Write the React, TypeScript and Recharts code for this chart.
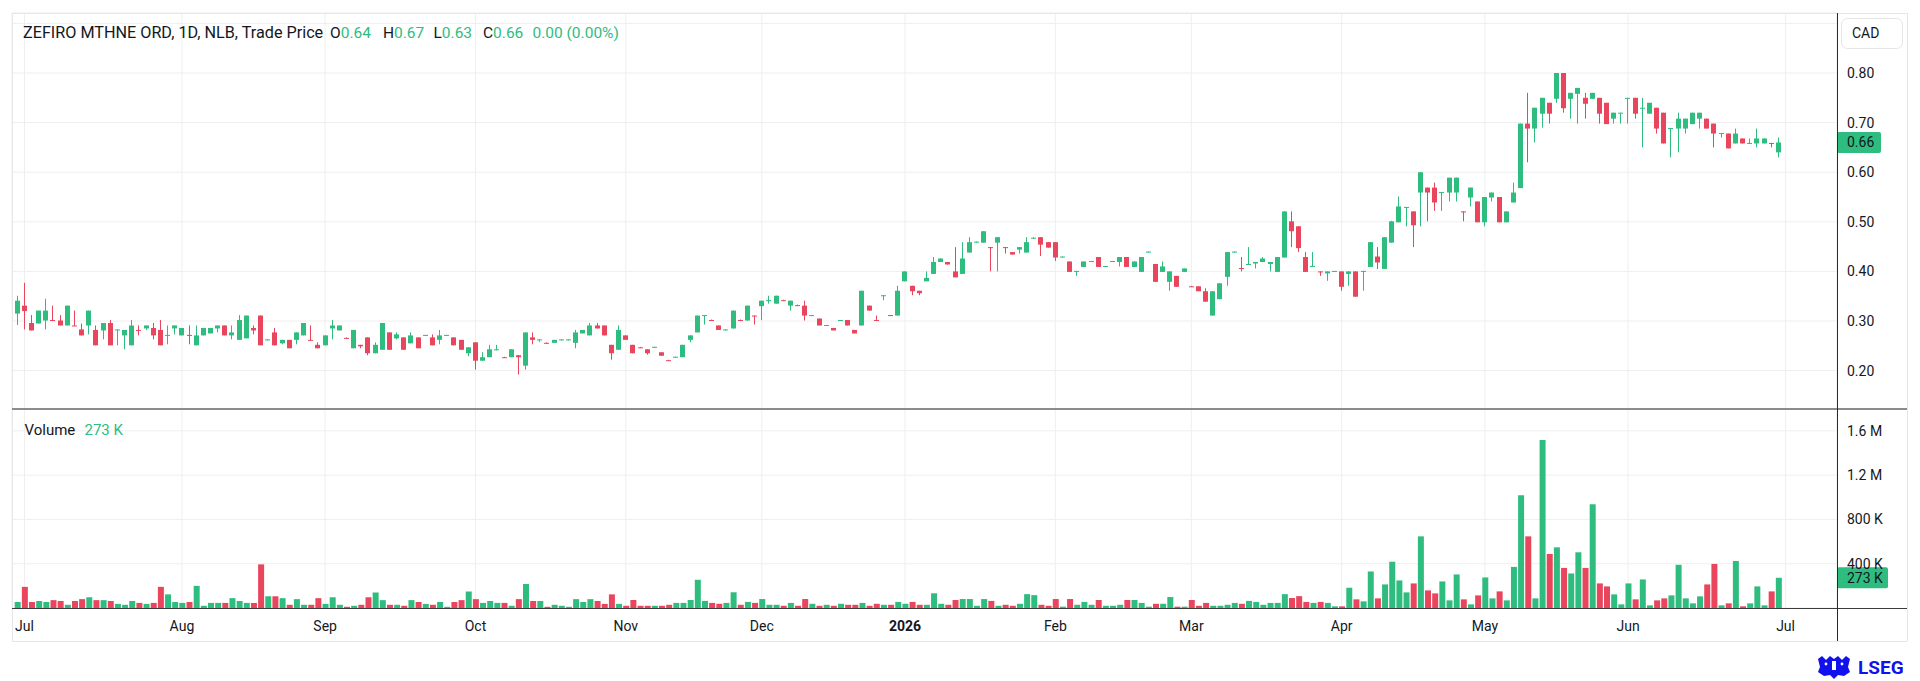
import React from 'react';
import { ComposedChart, Bar, XAxis, YAxis, CartesianGrid, ReferenceLine, Cell } from 'recharts';

// ---- data (daily candles, Jun 30 2025 .. Jun 2026) ----
const openP = [
  .315,.331,.296,.295,.301,.302,.301,.291,.291,.283,
  .291,.282,.281,.296,.282,.271,.251,.282,.285,.286,
  .282,.271,.285,.271,.272,.251,.271,.275,.285,.291,
  .271,.262,.265,.286,.311,.262,.277,.255,.262,.262,
  .271,.262,.252,.251,.285,.281,.266,.245,.252,.267,
  .235,.242,.277,.265,.267,.255,.267,.271,.267,.262,
  .271,.267,.262,.235,.257,.220,.227,.242,.227,.227,
  .231,.210,.267,.262,.256,.256,.262,.262,.256,.275,
  .271,.291,.291,.252,.242,.271,.252,.247,.243,.247,
  .237,.221,.227,.227,.262,.277,.311,.302,.291,.282,
  .285,.302,.301,.311,.330,.341,.335,.342,.331,.332,
  .331,.311,.305,.291,.286,.301,.302,.282,.291,.331,
  .302,.351,.312,.311,.380,.371,.361,.380,.395,.419,
  .419,.400,.395,.438,.459,.458,.449,.458,.449,.439,
  .444,.438,.467,.469,.459,.459,.429,.420,.400,.409,
  .420,.429,.410,.420,.419,.429,.409,.399,.439,.415,
  .399,.379,.391,.399,.370,.370,.360,.311,.344,.389,
  .439,.407,.414,.416,.419,.415,.399,.428,.501,.491,
  .429,.410,.400,.396,.400,.400,.395,.400,.400,.409,
  .430,.405,.458,.499,.529,.521,.559,.569,.569,.559,
  .559,.559,.521,.549,.541,.499,.549,.550,.499,.539,
  .568,.698,.688,.718,.740,.748,.800,.748,.758,.750,
  .748,.750,.740,.708,.719,.749,.750,.729,.718,.730,
  .720,.688,.688,.688,.697,.708,.708,.698,.678,.678,
  .658,.668,.658,.658,.658,.659,.640,
];
const highP = [
  .351,.377,.312,.321,.345,.331,.312,.331,.321,.295,
  .321,.291,.296,.302,.283,.282,.302,.291,.291,.296,
  .302,.291,.291,.286,.291,.291,.286,.286,.291,.291,
  .291,.312,.311,.291,.311,.263,.286,.262,.262,.277,
  .296,.291,.257,.271,.302,.291,.267,.282,.252,.267,
  .257,.296,.277,.277,.267,.277,.267,.272,.273,.282,
  .272,.267,.262,.247,.257,.237,.252,.252,.228,.243,
  .231,.277,.277,.263,.257,.262,.263,.263,.282,.282,
  .296,.296,.291,.252,.291,.271,.252,.248,.243,.248,
  .237,.222,.228,.252,.271,.311,.312,.303,.291,.283,
  .321,.303,.331,.311,.341,.351,.351,.343,.341,.333,
  .341,.312,.305,.292,.286,.302,.302,.282,.361,.331,
  .311,.352,.312,.371,.400,.371,.361,.400,.429,.426,
  .419,.449,.459,.469,.460,.481,.449,.469,.449,.439,
  .449,.469,.469,.469,.459,.459,.430,.420,.401,.420,
  .421,.429,.411,.421,.429,.429,.420,.429,.440,.415,
  .420,.400,.391,.406,.371,.370,.366,.360,.376,.439,
  .440,.429,.449,.419,.429,.419,.429,.521,.521,.491,
  .439,.439,.400,.400,.401,.400,.400,.400,.401,.459,
  .449,.469,.502,.551,.530,.521,.600,.569,.579,.560,
  .589,.589,.521,.569,.541,.550,.559,.550,.521,.579,
  .698,.760,.730,.750,.740,.800,.800,.760,.770,.760,
  .760,.750,.740,.720,.720,.750,.750,.750,.740,.730,
  .720,.689,.720,.708,.720,.720,.708,.698,.679,.678,
  .688,.668,.668,.688,.668,.659,.670,
];
const lowP = [
  .292,.283,.281,.295,.283,.300,.291,.291,.290,.271,
  .273,.251,.263,.251,.251,.243,.251,.271,.282,.263,
  .251,.253,.273,.271,.253,.251,.271,.275,.277,.271,
  .263,.262,.265,.273,.251,.261,.251,.253,.245,.253,
  .271,.261,.245,.251,.263,.281,.265,.245,.245,.231,
  .235,.242,.242,.263,.242,.255,.245,.270,.251,.253,
  .270,.251,.242,.229,.202,.220,.227,.241,.226,.227,
  .192,.202,.253,.258,.255,.256,.261,.261,.245,.275,
  .271,.285,.271,.222,.242,.262,.235,.246,.232,.246,
  .230,.220,.226,.227,.257,.277,.293,.301,.282,.281,
  .285,.301,.301,.293,.302,.335,.335,.341,.321,.331,
  .301,.310,.291,.290,.281,.300,.291,.275,.291,.321,
  .301,.342,.310,.311,.380,.352,.352,.380,.395,.419,
  .414,.388,.395,.438,.458,.458,.400,.400,.436,.434,
  .436,.438,.466,.431,.448,.421,.428,.399,.391,.409,
  .419,.409,.409,.419,.410,.409,.409,.399,.438,.379,
  .399,.361,.369,.399,.369,.360,.339,.311,.344,.371,
  .438,.400,.414,.406,.419,.400,.399,.428,.449,.439,
  .399,.410,.391,.381,.399,.361,.371,.349,.361,.409,
  .405,.405,.458,.499,.491,.449,.491,.501,.522,.522,
  .541,.541,.501,.531,.499,.491,.541,.499,.499,.539,
  .568,.620,.660,.690,.698,.740,.720,.708,.698,.708,
  .748,.698,.697,.698,.698,.698,.708,.650,.718,.678,
  .658,.630,.640,.678,.697,.688,.688,.650,.670,.648,
  .658,.658,.658,.650,.658,.650,.630,
];
const closeP = [
  .341,.320,.281,.321,.321,.301,.291,.331,.290,.271,
  .321,.251,.296,.251,.283,.282,.291,.281,.291,.271,
  .251,.272,.291,.286,.271,.271,.286,.286,.291,.271,
  .277,.302,.311,.281,.251,.263,.251,.262,.245,.277,
  .296,.261,.245,.271,.291,.291,.265,.282,.249,.235,
  .252,.296,.242,.273,.242,.271,.245,.272,.251,.271,
  .272,.251,.242,.247,.220,.227,.243,.243,.226,.243,
  .227,.277,.262,.263,.255,.262,.263,.263,.277,.282,
  .291,.285,.271,.235,.282,.262,.235,.246,.235,.248,
  .230,.220,.228,.252,.271,.311,.312,.301,.282,.283,
  .321,.301,.331,.310,.341,.342,.351,.341,.341,.331,
  .311,.312,.291,.292,.281,.302,.291,.275,.361,.321,
  .301,.352,.311,.361,.400,.360,.356,.387,.419,.426,
  .414,.388,.426,.459,.460,.481,.448,.469,.448,.434,
  .449,.459,.468,.454,.448,.428,.430,.399,.401,.420,
  .421,.409,.411,.421,.429,.409,.420,.429,.440,.379,
  .410,.400,.369,.406,.369,.360,.339,.360,.376,.439,
  .440,.406,.415,.419,.426,.419,.429,.521,.481,.447,
  .399,.411,.399,.400,.401,.369,.400,.349,.401,.459,
  .418,.469,.501,.531,.530,.493,.600,.559,.539,.560,
  .589,.589,.520,.569,.499,.550,.559,.499,.521,.559,
  .698,.688,.730,.750,.718,.800,.729,.760,.770,.738,
  .760,.718,.697,.720,.720,.750,.718,.730,.740,.688,
  .658,.689,.708,.708,.720,.720,.688,.678,.679,.648,
  .678,.658,.659,.668,.668,.658,.660,
];
// volume in thousands
const volumeK = [
  54,191,54,63,54,71,63,29,63,80,
  97,71,71,63,37,29,63,46,37,46,
  191,123,54,46,54,200,20,46,46,46,
  89,63,46,46,394,106,106,89,29,80,
  29,29,89,37,97,29,11,20,29,97,
  140,71,29,29,20,71,54,37,29,54,
  11,54,71,149,80,46,63,46,46,20,
  80,217,63,63,11,29,20,11,80,54,
  80,63,37,123,37,20,72,20,20,20,
  20,29,46,46,72,255,64,46,38,46,
  142,29,55,46,81,29,29,20,46,20,
  81,38,20,29,20,38,29,29,46,20,
  38,29,29,55,38,55,29,29,133,38,
  29,72,81,81,20,81,64,20,29,20,
  38,125,116,29,20,81,12,81,29,55,
  29,72,20,20,29,72,72,46,12,38,
  38,99,12,12,72,20,46,20,20,29,
  46,38,64,55,29,46,46,125,90,107,
  55,46,55,46,15,15,183,78,60,330,
  87,213,418,249,141,222,647,159,132,240,
  69,303,78,33,114,276,87,150,69,371,
  1019,647,87,1516,488,548,362,312,503,362,
  938,222,195,123,33,222,78,258,24,69,
  87,114,390,87,42,105,213,398,24,42,
  425,15,42,195,24,150,273,
];
const monthTickIndex = [1, 23, 43, 64, 85, 104, 124, 145, 164, 185, 205, 225, 247];
const monthTickLabel = ['Jul', 'Aug', 'Sep', 'Oct', 'Nov', 'Dec', '2026', 'Feb', 'Mar', 'Apr', 'May', 'Jun', 'Jul'];
const priceTicks = [0.2, 0.3, 0.4, 0.5, 0.6, 0.7, 0.8, 0.9];
const volumeTicks = [400000, 800000, 1200000, 1600000];
const SLOTS = 254;

const GREEN = '#2ebd7f';
const RED = '#e9455d';
const TEXT = '#131722';
const FONT = 'Roboto, "Noto Sans", sans-serif';
const GRID = '#efefef';

const N = openP.length;
const rows = Array.from({ length: SLOTS }, (_, i) =>
  i < N
    ? { i, range: [lowP[i], highP[i]], o: openP[i], h: highP[i], l: lowP[i], c: closeP[i], v: volumeK[i] * 1000 }
    : { i, range: null, o: null, h: null, l: null, c: null, v: null }
);
const lastClose = closeP[N - 1];
const lastVol = volumeK[N - 1] * 1000;

const Candle = (props: any) => {
  const { x, y, width, height, payload } = props;
  if (!payload || payload.o == null || x == null) return <g />;
  const top = Math.min(y, y + height);
  const hh = Math.abs(height);
  const span = payload.h - payload.l;
  const ppp = span > 0 ? hh / span : 0;
  const yO = top + (payload.h - payload.o) * ppp;
  const yC = top + (payload.h - payload.c) * ppp;
  const color = payload.c >= payload.o ? GREEN : RED;
  const px = Math.floor(x + width / 2);
  const bTop = Math.min(yO, yC);
  const bH = Math.max(1, Math.abs(yO - yC));
  return (
    <g>
      <line x1={px + 0.5} x2={px + 0.5} y1={top} y2={top + Math.max(hh, 1)} stroke={color} strokeWidth={1} />
      <rect x={px - 2} y={bTop} width={5} height={bH} fill={color} />
    </g>
  );
};

const MonthTick = (props: any) => {
  const { x, y, payload } = props;
  const k = monthTickIndex.indexOf(payload.value);
  const label = k >= 0 ? monthTickLabel[k] : '';
  return (
    <text x={x} y={y} dy="0.71em" textAnchor="middle" fontSize={14} fontFamily={FONT} fill={TEXT}
      fontWeight={label === '2026' ? 700 : 400}>{label}</text>
  );
};

const PriceTick = (props: any) => {
  const { x, y, payload } = props;
  if (payload.value > 0.85) return <g />;
  return (
    <text x={x} y={y} dy="0.35em" textAnchor="start" fontSize={14} fontFamily={FONT} fill={TEXT}>
      {Number(payload.value).toFixed(2)}
    </text>
  );
};

const fmtVol = (v: number) => (v >= 1e6 ? (v / 1e6).toFixed(1) + ' M' : Math.round(v / 1000) + ' K');

const VolTick = (props: any) => {
  const { x, y, payload } = props;
  return (
    <text x={x} y={y} dy="0.35em" textAnchor="start" fontSize={14} fontFamily={FONT} fill={TEXT}>
      {fmtVol(payload.value)}
    </text>
  );
};

const Tag = (props: any) => {
  const { viewBox, text, w } = props;
  if (!viewBox) return <g />;
  const left = viewBox.x + viewBox.width;
  const y = viewBox.y;
  return (
    <g>
      <rect x={left} y={y - 10.5} width={w} height={21} rx={2} fill={GREEN} />
      <text x={left + 10} y={y} dy="0.35em" fontSize={14} fontFamily={FONT} fill={TEXT}>{text}</text>
    </g>
  );
};

const Frame = () => (
  <svg width={1920} height={681} style={{ position: 'absolute', left: 0, top: 0, pointerEvents: 'none' }}>
    <line x1={12} x2={1907} y1={13.5} y2={13.5} stroke="#e6e6e6" />
    <line x1={12} x2={1907} y1={641.5} y2={641.5} stroke="#e6e6e6" />
    <line x1={12.5} x2={12.5} y1={13} y2={641} stroke="#e6e6e6" />
    <line x1={1907.5} x2={1907.5} y1={13} y2={641} stroke="#e6e6e6" />
    <line x1={12} x2={1907} y1={409} y2={409} stroke="#8c8c8c" strokeWidth={2} />
    <line x1={12} x2={1907} y1={608.5} y2={608.5} stroke="#3a3a3a" />
    <line x1={1837.5} x2={1837.5} y1={13} y2={641} stroke="#2a2a2a" />
    <rect x={1841.5} y={18.5} width={61} height={30} rx={6} fill="#fff" stroke="#e6e6e6" />
    <text x={1852} y={38} fontSize={14} fontFamily={FONT} fill={TEXT}>CAD</text>
    <g fontFamily={FONT} fontSize={15.5}>
      <text x={23} y={38} fill={TEXT} fontSize={16.2}>ZEFIRO MTHNE ORD, 1D, NLB, Trade Price</text>
      <text x={330} y={38} fill={TEXT}>O<tspan fill={GREEN}>0.64</tspan></text>
      <text x={383} y={38} fill={TEXT}>H<tspan fill={GREEN}>0.67</tspan></text>
      <text x={433.5} y={38} fill={TEXT}>L<tspan fill={GREEN}>0.63</tspan></text>
      <text x={483} y={38} fill={TEXT}>C<tspan fill={GREEN}>0.66</tspan></text>
      <text x={532.5} y={38} fill={GREEN}>0.00 (0.00%)</text>
      <text x={24.5} y={435} fill={TEXT} fontSize={15}>Volume</text>
      <text x={84.5} y={435} fill={GREEN} fontSize={15}>273 K</text>
    </g>
    <g fill="#1111ee">
      <path d="M1818 659 L1822 656 L1826 660 L1830 656 L1834 659 L1838 656 L1842 660 L1846 656 L1850 659 L1848 667 L1850 672 L1844 676 L1838 675 L1834 679 L1830 675 L1824 676 L1818 672 L1820 667 Z" />
      <circle cx={1826} cy={664} r={1.4} fill="#fff" />
      <circle cx={1842} cy={664} r={1.4} fill="#fff" />
      <rect x={1832} y={661} width={4} height={9} fill="#fff" />
      <text x={1858} y={674} fontSize={19} fontWeight={700} fontFamily={FONT}>LSEG</text>
    </g>
  </svg>
);

export default function App() {
  const xPad = { left: 1.7, right: 4.9 };
  return (
    <div style={{ position: 'absolute', left: 0, top: 0, width: 1920, height: 681, background: '#fff', overflow: 'hidden' }}>
      <div style={{ position: 'absolute', left: 0, top: 0 }}>
        <ComposedChart width={1920} height={409} data={rows} margin={{ top: 13, right: 13, bottom: 0, left: 12 }}>
          <CartesianGrid stroke={GRID} />
          <XAxis dataKey="i" type="category" hide ticks={monthTickIndex} interval={0} padding={xPad} />
          <YAxis orientation="right" width={70} domain={[0.1226, 0.921]} ticks={priceTicks} allowDataOverflow
            axisLine={false} tickLine={false} tickSize={0} tickMargin={10} tick={<PriceTick />} />
          <Bar dataKey="range" barSize={5} shape={<Candle />} isAnimationActive={false} />
          <ReferenceLine y={lastClose} stroke="none" ifOverflow="visible"
            label={(p: any) => <Tag viewBox={p.viewBox} text={lastClose.toFixed(2)} w={44} />} />
        </ComposedChart>
      </div>
      <div style={{ position: 'absolute', left: 0, top: 409 }}>
        <ComposedChart width={1920} height={272} data={rows} margin={{ top: 0, right: 13, bottom: 40, left: 12 }}>
          <CartesianGrid stroke={GRID} />
          <XAxis dataKey="i" type="category" ticks={monthTickIndex} interval={0} padding={xPad} height={33}
            axisLine={false} tickLine={false} tickSize={0} tickMargin={13} tick={<MonthTick />} />
          <YAxis orientation="right" width={70} domain={[0, 1797000]} ticks={volumeTicks} allowDataOverflow
            axisLine={false} tickLine={false} tickSize={0} tickMargin={10} tick={<VolTick />} />
          <Bar dataKey="v" barSize={6} isAnimationActive={false}>
            {rows.map((r) => (
              <Cell key={r.i} fill={r.c != null && r.c >= (r.o as number) ? GREEN : RED} />
            ))}
          </Bar>
          <ReferenceLine y={lastVol} stroke="none" ifOverflow="visible"
            label={(p: any) => <Tag viewBox={p.viewBox} text={fmtVol(lastVol)} w={51} />} />
        </ComposedChart>
      </div>
      <Frame />
    </div>
  );
}
